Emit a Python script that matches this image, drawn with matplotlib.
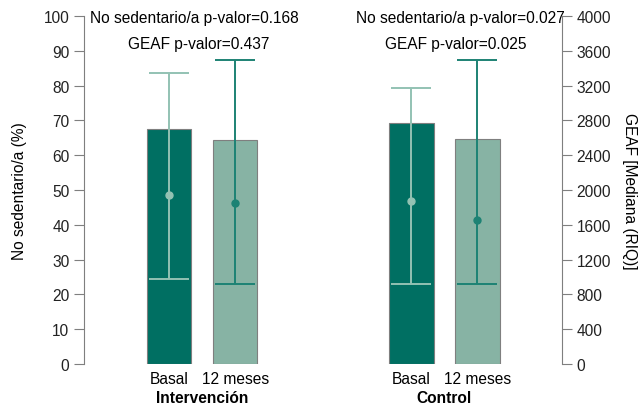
import numpy as np
import matplotlib.pyplot as plt

plt.rcParams['font.family'] = ['Liberation Sans', 'DejaVu Sans']

# data
grupos = ['Intervención', 'Control']
tiempos = ['Basal', '12 meses']
no_sedentario = [67.5, 64.4, 69.3, 64.7]          # % bars
geaf_mediana = [1945, 1850, 1870, 1655]
geaf_q1 = [975, 925, 925, 925]
geaf_q3 = [3350, 3495, 3170, 3495]
p_nosed = ['0.168', '0.027']
p_geaf = ['0.437', '0.025']

dark = '#006f62'
light = '#87b3a4'
err_light = '#93c2b3'
err_dark = '#1d8274'
gray = '#7f7f7f'
fs = 11.2

xpos = np.array([0, 1, 3.67, 4.67])
bar_cols = [dark, light, dark, light]
err_cols = [err_light, err_dark, err_light, err_dark]

fig = plt.figure(figsize=(6.41, 4.06), dpi=100)
ax = fig.add_axes([84/641, 1-365/406, (562-84)/641, (365-17)/406])
ax.bar(xpos, no_sedentario, width=0.67, color=bar_cols, edgecolor=gray, linewidth=0.8)
ax.set_xlim(-1.29, 5.95)
ax.set_ylim(0, 100)
ax.set_yticks(range(0, 101, 10))
ax.set_ylabel('No sedentario/a (%)', fontsize=fs, labelpad=12)

ax2 = ax.twinx()
ax2.set_ylim(0, 4000)
ax2.set_yticks(range(0, 4001, 400))
for i in range(4):
    med = geaf_mediana[i]
    ax2.errorbar(xpos[i], med, yerr=[[med - geaf_q1[i]], [geaf_q3[i] - med]],
                 fmt='o', color=err_cols[i], ms=5, elinewidth=1.4,
                 capsize=14.5, capthick=1.4)
ax2.set_ylabel('GEAF [Mediana (RIQ)]', fontsize=fs, rotation=270, labelpad=19)

for a in (ax, ax2):
    for s in ('top', 'bottom'):
        a.spines[s].set_visible(False)
    a.tick_params(axis='y', labelsize=fs, length=7, width=0.8, colors='#222222')
    a.tick_params(axis='y', color=gray)
    a.spines['left'].set_color(gray)
    a.spines['right'].set_color(gray)
ax.spines['right'].set_visible(False)
ax2.spines['left'].set_visible(False)

ax.set_xticks(xpos)
ax.set_xticklabels(tiempos * 2, fontsize=fs)
ax.tick_params(axis='x', length=0, pad=5)

centers = [(xpos[0] + xpos[1]) / 2, (xpos[2] + xpos[3]) / 2]
x_nosed = [0.384, 4.407]
x_geaf = [0.448, 4.34]
for c, g, pn, pg, xn, xg in zip(centers, grupos, p_nosed, p_geaf, x_nosed, x_geaf):
    ax.text(c, -9.7, g, ha='center', va='center', fontsize=fs, fontweight='bold')
    ax.text(xn, 99.7, 'No sedentario/a p-valor=' + pn, ha='center', va='center', fontsize=fs)
    ax.text(xg, 92.2, 'GEAF p-valor=' + pg, ha='center', va='center', fontsize=fs)

fig.savefig('out.png', dpi=100)
